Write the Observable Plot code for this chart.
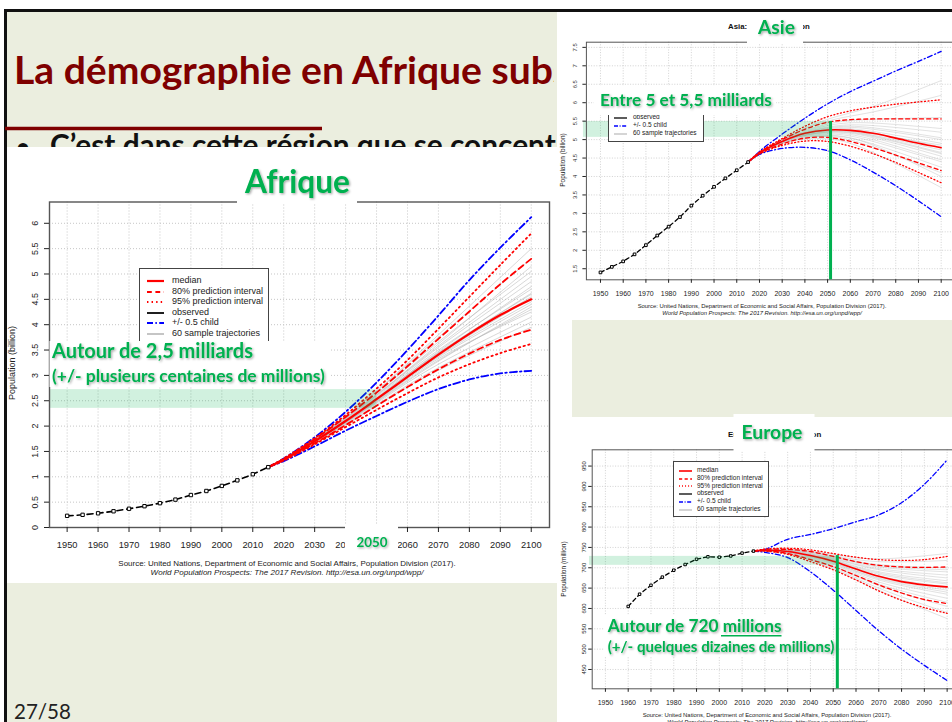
<!DOCTYPE html>
<html lang="fr"><head><meta charset="utf-8">
<script src="https://cdn.jsdelivr.net/npm/d3@7"></script>
<script src="https://cdn.jsdelivr.net/npm/@observablehq/plot@0.6"></script>
<style>
html,body{margin:0;padding:0;width:952px;height:722px;overflow:hidden;background:#fff;position:relative}
.abs{position:absolute}
.legend{position:absolute;background:#fff;border:1px solid #444;font-family:"Liberation Sans",Arial,sans-serif;color:#222;box-sizing:border-box;overflow:hidden}
.legend span{position:absolute;white-space:nowrap}
.legend svg{position:absolute}
</style></head><body>
<svg id="slide" class="abs" style="left:0;top:0" width="952" height="722"></svg>
<div id="charts"></div>
<svg id="overlay" class="abs" style="left:0;top:0;pointer-events:none" width="952" height="722"></svg>
<script>
// ---------------- DATA ----------------
const xTicks = [1950,1960,1970,1980,1990,2000,2010,2020,2030,2040,2050,2060,2070,2080,2090,2100];
const obsYears = [1950,1955,1960,1965,1970,1975,1980,1985,1990,1995,2000,2005,2010,2015];
const euObsYears = [1960,1965,1970,1975,1980,1985,1990,1995,2000,2005,2010,2015];
const projYears = [2015,2020,2030,2040,2050,2060,2070,2080,2090,2100];
const trajYears = [2015,2030,2050,2070,2100];

// Afrique (billions)
const afYTicks = [0,0.5,1,1.5,2,2.5,3,3.5,4,4.5,5,5.5,6];
const afObs = [0.23,0.25,0.28,0.32,0.37,0.42,0.48,0.55,0.64,0.72,0.82,0.93,1.05,1.19];
const afMedian = [1.19,1.34,1.70,2.10,2.53,2.97,3.41,3.82,4.19,4.50];
const afPi80Up = [1.19,1.35,1.74,2.18,2.66,3.18,3.72,4.26,4.80,5.30];
const afPi80Lo = [1.19,1.33,1.66,2.02,2.40,2.77,3.12,3.43,3.70,3.90];
const afPi95Up = [1.19,1.36,1.76,2.22,2.74,3.30,3.92,4.55,5.18,5.80];
const afPi95Lo = [1.19,1.32,1.64,1.98,2.32,2.65,2.96,3.22,3.44,3.62];
const afHalfUp = [1.19,1.36,1.78,2.28,2.86,3.50,4.18,4.88,5.52,6.12];
const afHalfLo = [1.19,1.31,1.60,1.91,2.20,2.48,2.73,2.92,3.04,3.09];
const afTraj = [
 [1.19,1.70,2.55,3.45,4.60],[1.19,1.72,2.60,3.55,4.85],[1.19,1.68,2.48,3.30,4.30],
 [1.19,1.74,2.68,3.75,5.30],[1.19,1.69,2.50,3.38,4.45],[1.19,1.71,2.58,3.50,4.70],
 [1.19,1.66,2.42,3.15,4.05],[1.19,1.73,2.64,3.66,5.05],[1.19,1.70,2.52,3.40,4.52],
 [1.19,1.67,2.45,3.22,4.15],[1.19,1.75,2.70,3.80,5.50],[1.19,1.69,2.51,3.43,4.62],
 [1.19,1.71,2.56,3.47,4.75],[1.19,1.68,2.47,3.28,4.35],[1.19,1.72,2.61,3.58,4.95],
 [1.19,1.70,2.53,3.36,4.40],[1.19,1.65,2.40,3.10,3.95],[1.19,1.73,2.62,3.62,5.15],
 [1.19,1.70,2.54,3.44,4.55],[1.19,1.69,2.49,3.33,4.25]
];
const afBand = {x1:1944.3, x2:2050, y1:2.35, y2:2.72};

// Asie (billions)
const asYTicks = [1.5,2,2.5,3,3.5,4,4.5,5,5.5,6,6.5,7,7.5];
const asObs = [1.40,1.55,1.70,1.89,2.14,2.40,2.64,2.90,3.21,3.48,3.72,3.95,4.17,4.39];
const asMedian = [4.39,4.64,4.95,5.17,5.26,5.25,5.17,5.04,4.90,4.78];
const asPi80Up = [4.39,4.65,5.00,5.28,5.47,5.54,5.56,5.56,5.56,5.56];
const asPi80Lo = [4.39,4.62,4.88,5.04,5.06,4.95,4.78,4.58,4.37,4.16];
const asPi95Up = [4.39,4.66,5.03,5.36,5.62,5.78,5.88,5.96,6.02,6.08];
const asPi95Lo = [4.39,4.61,4.84,4.96,4.95,4.82,4.62,4.38,4.11,3.83];
const asHalfUp = [4.39,4.68,5.15,5.58,5.97,6.30,6.58,6.86,7.12,7.39];
const asHalfLo = [4.39,4.60,4.76,4.79,4.70,4.45,4.12,3.75,3.34,2.91];
const asTraj = [
 [4.39,4.95,5.26,5.18,4.80],[4.39,4.98,5.38,5.45,5.30],[4.39,4.92,5.15,4.95,4.40],
 [4.39,5.00,5.50,5.75,6.20],[4.39,4.94,5.22,5.10,4.65],[4.39,4.96,5.30,5.28,5.00],
 [4.39,4.90,5.08,4.80,4.10],[4.39,4.97,5.34,5.38,5.20],[4.39,4.93,5.20,5.05,4.55],
 [4.39,5.01,5.55,5.90,6.60],[4.39,4.95,5.24,5.12,4.72],[4.39,4.89,5.02,4.65,3.70],
 [4.39,4.96,5.28,5.22,4.90],[4.39,4.94,5.18,5.00,4.45],[4.39,4.99,5.42,5.55,5.60],
 [4.39,4.95,5.25,5.15,4.85],[4.39,4.92,5.12,4.88,4.25],[4.39,4.97,5.32,5.32,5.05],
 [4.39,4.93,5.21,5.08,4.62],[4.39,4.91,5.10,4.85,4.00]
];
const asBand = {x1:1942.5, x2:2051.3, y1:5.06, y2:5.49};
const asRule = {x:2051.3, y1:1.2, y2:5.49};

// Europe (millions)
const euYTicks = [450,500,550,600,650,700,750,800,850,900,950];
const euObs = [605,635,657,677,694,708,721,727,726,729,736,741];
const euMedian = [741,743,740,730,716,697,679,666,658,653];
const euPi80Up = [741,745,745,740,728,715,706,702,701,702];
const euPi80Lo = [741,742,735,720,703,681,658,638,622,612];
const euPi95Up = [741,746,748,744,735,726,720,718,720,728];
const euPi95Lo = [741,741,733,715,695,670,643,620,602,588];
const euHalfUp = [741,745,770,782,796,813,830,860,905,965];
const euHalfLo = [741,738,725,690,645,595,545,500,460,423];
const euTraj = [
 [741,740,716,680,653],[741,744,728,708,700],[741,736,705,660,615],
 [741,746,733,722,735],[741,739,713,675,645],[741,742,722,695,675],
 [741,735,700,650,590],[741,743,725,702,690],[741,738,710,670,635],
 [741,745,730,715,718],[741,740,718,684,660],[741,734,697,645,575],
 [741,741,720,690,668],[741,737,708,665,625],[741,744,727,705,695],
 [741,739,715,678,650],[741,736,703,656,605],[741,742,723,698,682],
 [741,738,712,673,640],[741,741,719,687,663]
];
const euBand = {x1:1943.0, x2:2051.8, y1:706, y2:728};
const euRule = {x:2051.8, y1:402.5, y2:730};

const legendItems = [
  {label:"median", stroke:"#FF0000", dash:null, w:2},
  {label:"80% prediction interval", stroke:"#FF0000", dash:"4,3", w:1.6},
  {label:"95% prediction interval", stroke:"#FF0000", dash:"1.2,2.6", w:1.6},
  {label:"observed", stroke:"#000", dash:null, w:1.6},
  {label:"+/- 0.5 child", stroke:"#0000FF", dash:"5,2,1.2,2", w:1.6},
  {label:"60 sample trajectories", stroke:"#BEBEBE", dash:null, w:1.6}
];
const sourceLine1 = "Source: United Nations, Department of Economic and Social Affairs, Population Division (2017).";
const sourceLine2 = "World Population Prospects: The 2017 Revision. http://esa.un.org/unpd/wpp/";

// ---------------- HELPERS ----------------
const GREEN = "#00B050";
const rows = (xs, ys) => xs.map((x, i) => ({x, y: ys[i]}));
const trajRows = (xs, list) => list.flatMap((ys, id) => ys.map((y, i) => ({x: xs[i], y, id})));

function makeChart(c) {
  const lo = (stroke, w, dash) => ({x:"x", y:"y", stroke, strokeWidth:w, strokeDasharray:dash, curve:"catmull-rom"});
  const marks = [
    Plot.gridX(xTicks, {stroke:"#c6c6c6", strokeOpacity:1, strokeDasharray:c.gridDash, strokeWidth:c.gridW}),
    Plot.gridY(c.yTicks, {stroke:"#c6c6c6", strokeOpacity:1, strokeDasharray:c.gridDash, strokeWidth:c.gridW}),
    Plot.line(trajRows(trajYears, c.traj), {x:"x", y:"y", z:"id", stroke:"#b4b4b4", strokeWidth:c.trajW, strokeOpacity:0.65, curve:"natural"}),
    Plot.line(rows(projYears, c.halfUp), lo("#0000FF", c.lw, c.dashDot)),
    Plot.line(rows(projYears, c.halfLo), lo("#0000FF", c.lw, c.dashDot)),
    Plot.line(rows(projYears, c.pi95Up), lo("#FF0000", c.lw, c.dot)),
    Plot.line(rows(projYears, c.pi95Lo), lo("#FF0000", c.lw, c.dot)),
    Plot.line(rows(projYears, c.pi80Up), lo("#FF0000", c.lw, c.dash)),
    Plot.line(rows(projYears, c.pi80Lo), lo("#FF0000", c.lw, c.dash)),
    Plot.line(rows(projYears, c.median), lo("#FF0000", c.mw)),
    Plot.line(rows(c.obsYears, c.obs), {x:"x", y:"y", stroke:"#000", strokeWidth:c.ow, strokeDasharray:c.obsDash}),
    Plot.dot(rows(c.obsYears, c.obs), {x:"x", y:"y", symbol:"square", r:c.dotR, fill:"#fff", stroke:"#000", strokeWidth:1}),
    Plot.rect([c.band], {x1:"x1", x2:"x2", y1:"y1", y2:"y2", fill:GREEN, fillOpacity:0.18}),
    Plot.frame({stroke:"#555", strokeWidth:c.frameW}),
    Plot.axisX(xTicks, {tickSize:c.tsx, tickPadding:c.tpx, fontSize:c.fx, tickFormat:d => String(d), label:null, fill:"#222"}),
    Plot.axisY(c.yTicks, {tickSize:c.tsy, tickPadding:c.tpy, fontSize:c.fy, tickRotate:-90, tickFormat:d => String(d), label:null, fill:"#222"})
  ];
  if (c.rule) marks.push(Plot.ruleX([c.rule], {x:"x", y1:"y1", y2:"y2", stroke:GREEN, strokeWidth:3}));
  const svg = Plot.plot({
    width:c.width, height:c.height, marginTop:c.mt, marginBottom:c.mb, marginLeft:c.ml, marginRight:c.mr,
    x:{domain:c.xDomain}, y:{domain:c.yDomain},
    style:{background:"transparent", color:"#222", fontFamily:"'Liberation Sans', Arial, sans-serif", overflow:"visible"},
    marks
  });
  const wrap = document.createElement("div");
  wrap.className = "abs";
  wrap.style.left = c.left + "px"; wrap.style.top = c.top + "px";
  svg.style.maxWidth = "none";
  wrap.appendChild(svg);
  document.getElementById("charts").appendChild(wrap);
}

function makeLegend(o) {
  const d = document.createElement("div");
  d.className = "legend";
  Object.assign(d.style, {left:o.left+"px", top:o.top+"px", width:o.width+"px", height:o.height+"px"});
  legendItems.forEach((it, i) => {
    if (i < (o.from || 0)) return; // rows hidden behind an annotation box in the reference
    const cy = o.first + i * o.step;
    const s = document.createElementNS("http://www.w3.org/2000/svg", "svg");
    s.setAttribute("width", o.lx1 - o.lx0); s.setAttribute("height", 6);
    s.style.left = o.lx0 + "px"; s.style.top = (cy - 3) + "px";
    const l = document.createElementNS("http://www.w3.org/2000/svg", "line");
    l.setAttribute("x1", 0); l.setAttribute("x2", o.lx1 - o.lx0); l.setAttribute("y1", 3); l.setAttribute("y2", 3);
    l.setAttribute("stroke", it.stroke); l.setAttribute("stroke-width", it.w * o.lw);
    if (it.dash) l.setAttribute("stroke-dasharray", it.dash.split(",").map(v => v * o.ds).join(","));
    s.appendChild(l); d.appendChild(s);
    const t = document.createElement("span");
    t.textContent = it.label;
    t.style.left = o.tx + "px"; t.style.fontSize = o.fs + "px"; t.style.lineHeight = o.fs + "px";
    t.style.top = (cy - o.fs / 2 - 0.5) + "px";
    d.appendChild(t);
  });
  document.getElementById("charts").appendChild(d);
}

function txt(sel, o) {
  const t = sel.append("text").attr("x", o.x).attr("y", o.y).text(o.fit || o.t)
    .attr("font-family", o.f || "Lato").attr("font-size", o.s).attr("font-weight", o.w || "normal")
    .attr("fill", o.c || "#000").attr("text-anchor", o.a || "start");
  if (o.i) t.attr("font-style", "italic");
  if (o.sh) t.attr("filter", "url(#sh)");
  if (o.r) t.attr("transform", `rotate(${o.r},${o.x},${o.y})`);
  if (o.fw) { const w = t.node().getComputedTextLength(); t.attr("font-size", o.s * o.fw / w); }
  if (o.fit) t.text(o.t);
  if (o.clip) t.attr("clip-path", o.clip);
  return t;
}

// ---------------- SLIDE BACKGROUND ----------------
const sl = d3.select("#slide");
sl.append("defs").append("clipPath").attr("id", "titleclip").append("rect").attr("x", 0).attr("y", 0).attr("width", 554).attr("height", 140);
sl.append("rect").attr("x", 0).attr("y", 0).attr("width", 952).attr("height", 722).attr("fill", "#fff");
sl.append("rect").attr("x", 5).attr("y", 10).attr("width", 947).attr("height", 712).attr("fill", "#EBEEDF");
sl.append("line").attr("x1", 4).attr("x2", 952).attr("y1", 10.5).attr("y2", 10.5).attr("stroke", "#111").attr("stroke-width", 3);
sl.append("line").attr("x1", 5.5).attr("x2", 5.5).attr("y1", 9).attr("y2", 722).attr("stroke", "#111").attr("stroke-width", 3);
txt(sl, {x:14, y:84, t:"La démographie en Afrique subsaharienne", fit:"La démographie en Afrique sub", s:32, w:"bold", c:"#7F0000", fw:539, clip:"url(#titleclip)"});
sl.append("line").attr("x1", 5).attr("x2", 322).attr("y1", 128.5).attr("y2", 128.5).attr("stroke", "#7F0000").attr("stroke-width", 3.5);
txt(sl, {x:16, y:156, t:"•", s:24, w:"bold", c:"#111"});
txt(sl, {x:50, y:156, t:"C’est dans cette région que se concentrera", fit:"C’est dans cette région que se concent", s:24, w:"bold", c:"#111", fw:506});
txt(sl, {x:14, y:719, t:"27/58", s:20, c:"#222", fw:57});
// white picture areas
sl.append("rect").attr("x", 7).attr("y", 147).attr("width", 550).attr("height", 436).attr("fill", "#fff");
sl.append("rect").attr("x", 557).attr("y", 12).attr("width", 395).attr("height", 308).attr("fill", "#fff");
sl.append("rect").attr("x", 557).attr("y", 320).attr("width", 15).attr("height", 100).attr("fill", "#fff");
sl.append("rect").attr("x", 557).attr("y", 417).attr("width", 395).attr("height", 305).attr("fill", "#fff");

// ---------------- CHARTS ----------------
makeChart({left:8, top:147, width:549, height:436, mt:54.5, mb:56, ml:41, mr:8,
  xDomain:[1944.3, 2105.9], yDomain:[0, 6.42], yTicks:afYTicks,
  obsYears, obs:afObs, median:afMedian, pi80Up:afPi80Up, pi80Lo:afPi80Lo, pi95Up:afPi95Up, pi95Lo:afPi95Lo,
  halfUp:afHalfUp, halfLo:afHalfLo, traj:afTraj, band:afBand,
  gridDash:"1,2", gridW:1, trajW:0.8, lw:1.8, mw:2.2, ow:1.6, dotR:1.9,
  dash:"6,4", dot:"1.4,3.4", dashDot:"7,3,1.5,3", obsDash:"6,4",
  frameW:1.4, tsx:5, tpx:8.6, fx:9.3, tsy:5, tpy:7, fy:9});

makeChart({left:557, top:12, width:400, height:308, mt:29.7, mb:40.7, ml:28.9, mr:2.7,
  xDomain:[1943.8, 2106], yDomain:[1.2, 7.64], yTicks:asYTicks,
  obsYears, obs:asObs, median:asMedian, pi80Up:asPi80Up, pi80Lo:asPi80Lo, pi95Up:asPi95Up, pi95Lo:asPi95Lo,
  halfUp:asHalfUp, halfLo:asHalfLo, traj:asTraj, band:asBand, rule:asRule,
  gridDash:"1,1.6", gridW:0.8, trajW:0.6, lw:1.3, mw:1.6, ow:1.3, dotR:1.5,
  dash:"4,3", dot:"1,2.4", dashDot:"5,2.5,1,2.5", obsDash:"4,3",
  frameW:1, tsx:3.5, tpx:7.4, fx:7, tsy:3.5, tpy:5.5, fy:5.8});

makeChart({left:557, top:417, width:405, height:305, mt:32.3, mb:33.7, ml:34.7, mr:1.7,
  xDomain:[1944.2, 2106], yDomain:[402.5, 990], yTicks:euYTicks,
  obsYears:euObsYears, obs:euObs, median:euMedian, pi80Up:euPi80Up, pi80Lo:euPi80Lo, pi95Up:euPi95Up, pi95Lo:euPi95Lo,
  halfUp:euHalfUp, halfLo:euHalfLo, traj:euTraj, band:euBand, rule:euRule,
  gridDash:"1,1.6", gridW:0.8, trajW:0.6, lw:1.3, mw:1.6, ow:1.3, dotR:1.4,
  dash:"4,3", dot:"1,2.4", dashDot:"5,2.5,1,2.5", obsDash:"4,3",
  frameW:1, tsx:3.5, tpx:7.7, fx:7, tsy:3.5, tpy:2.8, fy:6});

// legends
makeLegend({left:139, top:268, width:130, height:77, first:12, step:10.5, lx0:7, lx1:24, tx:32, fs:9, lw:1.1, ds:1.2});
makeLegend({left:608, top:86, width:96, height:56, first:7, step:8, lx0:5, lx1:18, tx:24, fs:6.5, lw:0.8, ds:0.8, from:3});
makeLegend({left:673, top:461, width:96, height:56, first:9, step:7.7, lx0:5, lx1:18, tx:23, fs:6.5, lw:0.8, ds:0.8});

// ---------------- OVERLAY ----------------
const ov = d3.select("#overlay");
ov.append("defs").append("filter").attr("id", "sh").attr("x", "-10%").attr("y", "-30%").attr("width", "130%").attr("height", "170%")
  .append("feDropShadow").attr("dx", 1.2).attr("dy", 1.2).attr("stdDeviation", 0.9).attr("flood-color", "#000").attr("flood-opacity", 0.35);
const LS = "'Liberation Sans', Arial, sans-serif";

// axis titles & sources
txt(ov, {x:14.5, y:363, t:"Population (billion)", f:LS, s:9, c:"#222", a:"middle", r:-90});
txt(ov, {x:287, y:565.5, t:sourceLine1, f:LS, s:7.3, c:"#222", a:"middle", fw:338});
txt(ov, {x:287, y:574.5, t:sourceLine2, f:LS, s:7.3, c:"#222", a:"middle", i:true, fw:273});
txt(ov, {x:564.5, y:160, t:"Population (billion)", f:LS, s:6.5, c:"#222", a:"middle", r:-90});
txt(ov, {x:762, y:307.5, t:sourceLine1, f:LS, s:5.4, c:"#222", a:"middle", fw:249});
txt(ov, {x:762, y:315, t:sourceLine2, f:LS, s:5.4, c:"#222", a:"middle", i:true, fw:200});
txt(ov, {x:566, y:569, t:"Population (million)", f:LS, s:6.5, c:"#222", a:"middle", r:-90});
txt(ov, {x:767, y:716.5, t:sourceLine1, f:LS, s:5.4, c:"#222", a:"middle", fw:249});
txt(ov, {x:767, y:723.5, t:sourceLine2, f:LS, s:5.4, c:"#222", a:"middle", i:true, fw:200});
txt(ov, {x:728, y:29, t:"Asia: Total Population", f:LS, s:7.8, w:"bold", c:"#111"});
txt(ov, {x:728, y:436.5, t:"Europe: Total Population", f:LS, s:7.9, w:"bold", c:"#111"});

// white label boxes
const box = (x, y, w, h) => ov.append("rect").attr("x", x).attr("y", y).attr("width", w).attr("height", h).attr("fill", "#fff");
box(237, 160, 120, 44);
box(345, 525, 53, 31);
box(49.5, 341, 281, 46);
box(747, 12, 56, 31);
box(594, 86, 182, 29);
box(733.5, 414, 81, 37);
box(604, 615, 229, 42);

// green annotations
const G = {c:GREEN, w:"bold", sh:true};
txt(ov, {...G, x:245, y:193, t:"Afrique", s:26, fw:105});
txt(ov, {...G, x:356.5, y:547, t:"2050", s:16, fw:31});
txt(ov, {...G, x:52, y:358, t:"Autour de 2,5 milliards", s:18, fw:201});
txt(ov, {...G, x:52, y:381.5, t:"(+/- plusieurs centaines de millions)", s:14, fw:273});
txt(ov, {...G, x:758, y:34, t:"Asie", s:20, fw:37});
txt(ov, {...G, x:600, y:106, t:"Entre 5 et 5,5 milliards", s:16, fw:172});
txt(ov, {...G, x:741.5, y:439, t:"Europe", s:20, fw:61});
txt(ov, {...G, x:607.7, y:631.7, t:"Autour de 720 millions", s:16, fw:174});
ov.append("line").attr("x1", 721).attr("x2", 781.5).attr("y1", 635.8).attr("y2", 635.8).attr("stroke", GREEN).attr("stroke-width", 1.5);
txt(ov, {...G, x:607.7, y:651.5, t:"(+/- quelques dizaines de millions)", s:13, fw:227});
</script>
</body></html>
